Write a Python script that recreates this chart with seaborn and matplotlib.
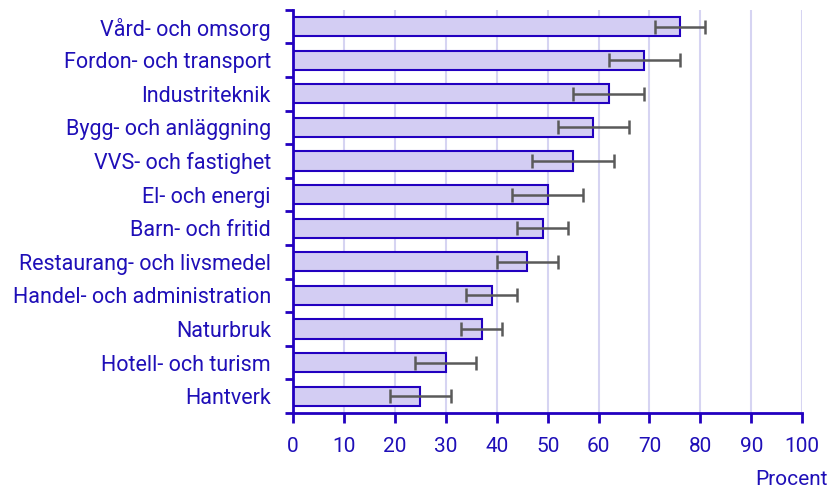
import matplotlib
matplotlib.use("Agg")
import matplotlib.pyplot as plt
import seaborn as sns
import numpy as np
import pandas as pd

categories = ["Vård- och omsorg", "Fordon- och transport", "Industriteknik",
              "Bygg- och anläggning", "VVS- och fastighet", "El- och energi",
              "Barn- och fritid", "Restaurang- och livsmedel",
              "Handel- och administration", "Naturbruk", "Hotell- och turism",
              "Hantverk"]
values = [76, 69, 62, 59, 55, 50, 49, 46, 39, 37, 30, 25]
err_low = [71, 62, 55, 52, 47, 43, 44, 40, 34, 33, 24, 19]
err_high = [81, 76, 69, 66, 63, 57, 54, 52, 44, 41, 36, 31]
x_ticks = [0, 10, 20, 30, 40, 50, 60, 70, 80, 90, 100]

blue = "#2200c0"
text_blue = "#1f0fb8"
fill = "#d3cdf3"
grid_col = "#d6d4f2"

sns.set_theme(style="white")
plt.rcParams["font.family"] = ["Roboto", "DejaVu Sans"]

df = pd.DataFrame({"kategori": categories, "procent": values})

fig = plt.figure(figsize=(8.4, 4.91), dpi=100)
ax = fig.add_axes([0.349, 0.159, 0.606, 0.821])

sns.barplot(data=df, x="procent", y="kategori", orient="h", color=fill,
            saturation=1, edgecolor=blue, linewidth=1.5, width=0.57, ax=ax,
            zorder=2)

# felstaplar
vals = np.array(values)
xerr = np.vstack([vals - np.array(err_low), np.array(err_high) - vals])
ax.errorbar(vals, np.arange(len(categories)), xerr=xerr, fmt="none",
            ecolor="#5a5a5a", elinewidth=1.8, capsize=5, capthick=1.8, zorder=3)

ax.set_xlim(0, 100)
ax.set_ylim(len(categories) - 0.5, -0.5)
ax.set_xticks(x_ticks)
ax.set_xticklabels([str(t) for t in x_ticks])
ax.set_xlabel("")
ax.set_ylabel("")

for t in x_ticks[1:]:
    ax.axvline(t, color=grid_col, lw=1.5, zorder=0)

for s in ["top", "right"]:
    ax.spines[s].set_visible(False)
for s in ["left", "bottom"]:
    ax.spines[s].set_color(blue)
    ax.spines[s].set_linewidth(2)

ax.tick_params(axis="x", bottom=True, colors=blue, labelcolor=text_blue,
               labelsize=15, length=7, width=2, direction="out", pad=10)
ax.tick_params(axis="y", which="major", left=True, length=0,
               labelcolor=text_blue, labelsize=15.5, pad=16)
ax.set_yticks(np.arange(-0.5, len(categories), 1), minor=True)
ax.tick_params(axis="y", which="minor", left=True, length=6, width=2,
               color=blue, direction="out")

fig.text(0.986, 0.005, "Procent", ha="right", va="bottom", color=text_blue,
         fontsize=15)

fig.savefig("out.png", dpi=100)
